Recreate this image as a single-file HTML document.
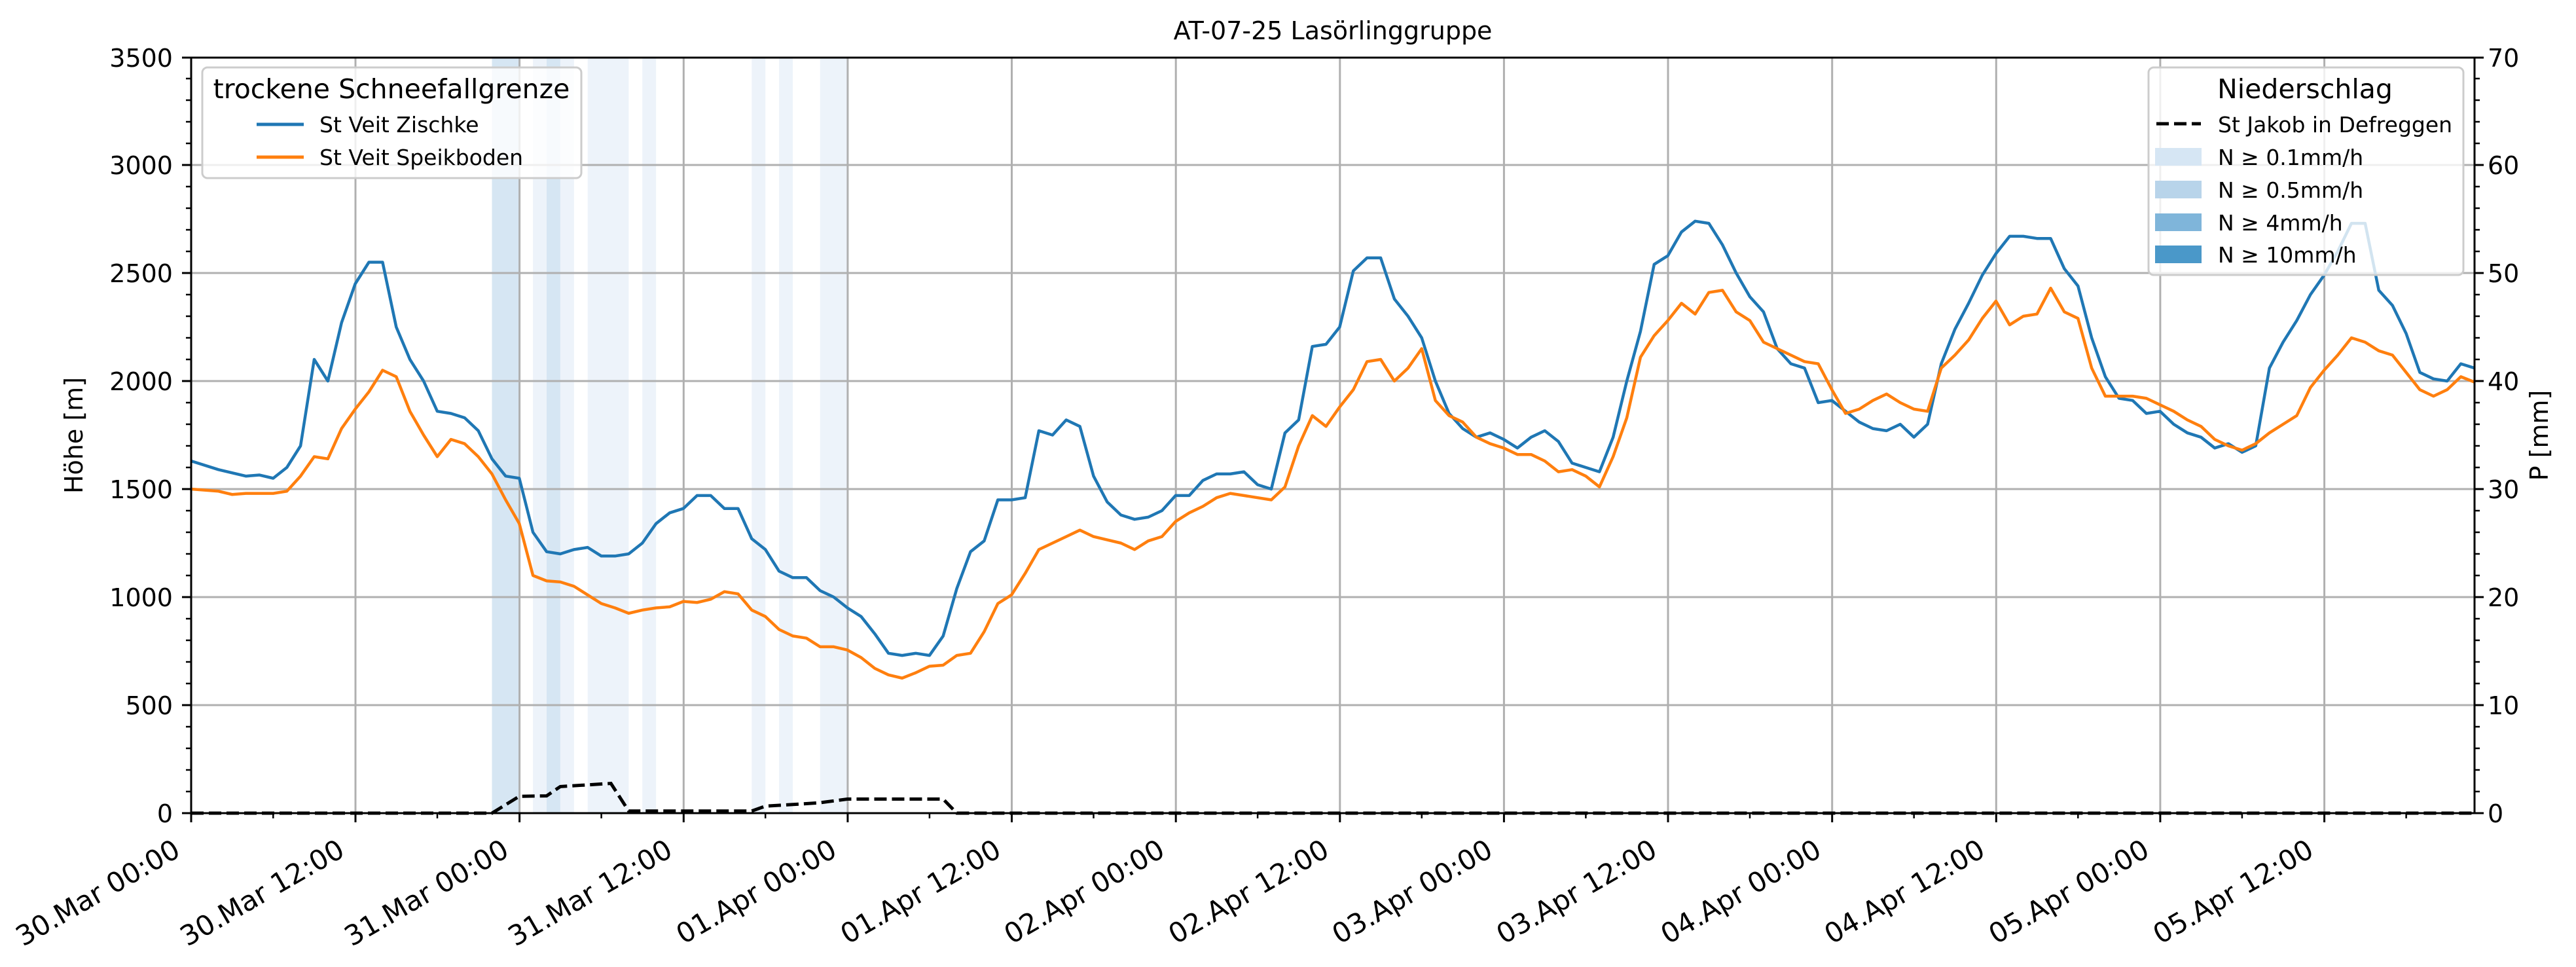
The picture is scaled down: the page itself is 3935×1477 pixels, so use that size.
<!DOCTYPE html>
<html><head><meta charset="utf-8"><style>html,body{margin:0;padding:0;background:#fff}svg{display:block}text{font-family:"DejaVu Sans","Liberation Sans",sans-serif;fill:#000}</style></head>
<body>
<svg width="3935" height="1477" viewBox="0 0 3935 1477" xmlns="http://www.w3.org/2000/svg">
<rect width="3935" height="1477" fill="#fff"/>
<g transform="translate(292,0) scale(20.886,1)">
<rect x="22" y="88" width="2" height="1154" fill="#d6e6f3"/>
<rect x="25" y="88" width="1" height="1154" fill="#edf3fa"/>
<rect x="26" y="88" width="1" height="1154" fill="#d6e6f3"/>
<rect x="27" y="88" width="1" height="1154" fill="#edf3fa"/>
<rect x="29" y="88" width="3" height="1154" fill="#edf3fa"/>
<rect x="33" y="88" width="1" height="1154" fill="#edf3fa"/>
<rect x="41" y="88" width="1" height="1154" fill="#edf3fa"/>
<rect x="43" y="88" width="1" height="1154" fill="#edf3fa"/>
<rect x="46" y="88" width="2" height="1154" fill="#edf3fa"/>
</g>
<g stroke="#b0b0b0" stroke-width="3">
<line x1="543" y1="88" x2="543" y2="1242"/><line x1="793.6" y1="88" x2="793.6" y2="1242"/><line x1="1044.3" y1="88" x2="1044.3" y2="1242"/><line x1="1294.9" y1="88" x2="1294.9" y2="1242"/><line x1="1545.5" y1="88" x2="1545.5" y2="1242"/><line x1="1796.2" y1="88" x2="1796.2" y2="1242"/><line x1="2046.8" y1="88" x2="2046.8" y2="1242"/><line x1="2297.4" y1="88" x2="2297.4" y2="1242"/><line x1="2548" y1="88" x2="2548" y2="1242"/><line x1="2798.7" y1="88" x2="2798.7" y2="1242"/><line x1="3049.3" y1="88" x2="3049.3" y2="1242"/><line x1="3299.9" y1="88" x2="3299.9" y2="1242"/><line x1="3550.6" y1="88" x2="3550.6" y2="1242"/>
<line x1="292" y1="1077" x2="3780" y2="1077"/><line x1="292" y1="912" x2="3780" y2="912"/><line x1="292" y1="747" x2="3780" y2="747"/><line x1="292" y1="582" x2="3780" y2="582"/><line x1="292" y1="417" x2="3780" y2="417"/><line x1="292" y1="252" x2="3780" y2="252"/>
</g>
<g transform="translate(292,1242) scale(20.886,-0.33)" fill="none" stroke-linejoin="round">
<polyline vector-effect="non-scaling-stroke" stroke="#1f77b4" stroke-width="4.5" points="0,1630 2,1590 4,1560 5,1565 6,1550 7,1600 8,1700 9,2100 10,2000 11,2270 12,2450 13,2550 14,2550 15,2250 16,2100 17,2000 18,1860 19,1850 20,1830 21,1770 22,1640 23,1560 24,1550 25,1300 26,1210 27,1200 28,1220 29,1230 30,1190 31,1190 32,1200 33,1250 34,1340 35,1390 36,1410 37,1470 38,1470 39,1410 40,1410 41,1270 42,1220 43,1120 44,1090 45,1090 46,1030 47,1000 48,950 49,910 50,830 51,740 52,730 53,740 54,730 55,820 56,1040 57,1210 58,1260 59,1450 60,1450 61,1460 62,1770 63,1750 64,1820 65,1790 66,1560 67,1440 68,1380 69,1360 70,1370 71,1400 72,1470 73,1470 74,1540 75,1570 76,1570 77,1580 78,1520 79,1500 80,1760 81,1820 82,2160 83,2170 84,2250 85,2510 86,2570 87,2570 88,2380 89,2300 90,2200 91,2000 92,1850 93,1780 94,1740 95,1760 96,1730 97,1690 98,1740 99,1770 100,1720 101,1620 102,1600 103,1580 104,1740 105,2000 106,2230 107,2540 108,2580 109,2690 110,2740 111,2730 112,2630 113,2500 114,2390 115,2320 116,2150 117,2080 118,2060 119,1900 120,1910 121,1860 122,1810 123,1780 124,1770 125,1800 126,1740 127,1800 128,2080 129,2240 130,2360 131,2490 132,2590 133,2670 134,2670 135,2660 136,2660 137,2520 138,2440 139,2200 140,2020 141,1920 142,1910 143,1850 144,1860 145,1800 146,1760 147,1740 148,1690 149,1710 150,1670 151,1700 152,2060 153,2180 154,2280 155,2400 156,2490 157,2600 158,2730 159,2730 160,2420 161,2350 162,2220 163,2040 164,2010 165,2000 166,2080 167,2060"/>
<polyline vector-effect="non-scaling-stroke" stroke="#ff7f0e" stroke-width="4.5" points="0,1500 2,1490 3,1475 4,1480 5,1480 6,1480 7,1490 8,1560 9,1650 10,1640 11,1780 12,1870 13,1950 14,2050 15,2020 16,1860 17,1750 18,1650 19,1730 20,1710 21,1650 22,1570 23,1450 24,1340 25,1100 26,1075 27,1070 28,1050 29,1010 30,970 31,950 32,925 33,940 34,950 35,955 36,980 37,975 38,990 39,1025 40,1015 41,940 42,910 43,850 44,820 45,810 46,770 47,770 48,755 49,720 50,670 51,640 52,625 53,650 54,680 55,685 56,730 57,740 58,840 59,970 60,1010 61,1110 62,1220 63,1250 64,1280 65,1310 66,1280 67,1265 68,1250 69,1220 70,1260 71,1280 72,1350 73,1390 74,1420 75,1460 76,1480 77,1470 78,1460 79,1450 80,1510 81,1700 82,1840 83,1790 84,1880 85,1960 86,2090 87,2100 88,2000 89,2060 90,2150 91,1910 92,1840 93,1810 94,1740 95,1710 96,1690 97,1660 98,1660 99,1630 100,1580 101,1590 102,1560 103,1510 104,1650 105,1830 106,2110 107,2210 108,2280 109,2360 110,2310 111,2410 112,2420 113,2320 114,2280 115,2180 116,2150 117,2120 118,2090 119,2080 120,1960 121,1850 122,1870 123,1910 124,1940 125,1900 126,1870 127,1860 128,2060 129,2120 130,2190 131,2290 132,2370 133,2260 134,2300 135,2310 136,2430 137,2320 138,2290 139,2060 140,1930 141,1930 142,1930 143,1920 144,1890 145,1860 146,1820 147,1790 148,1730 149,1700 150,1680 151,1710 152,1760 153,1800 154,1840 155,1970 156,2050 157,2120 158,2200 159,2180 160,2140 161,2120 162,2040 163,1960 164,1930 165,1960 166,2020 167,1995"/>
</g>
<g transform="translate(292,1242) scale(20.886,-16.5)" fill="none">
<polyline vector-effect="non-scaling-stroke" stroke="#000" stroke-width="5" stroke-dasharray="19,8" points="0,0 22,0 24,1.56 26,1.6 27,2.46 30.7,2.75 32,0.2 41,0.2 42,0.65 45.9,0.95 48,1.3 55,1.3 56,0 167,0"/>
</g>
<rect x="292" y="88" width="3488" height="1154" fill="none" stroke="#000" stroke-width="3"/>
<g stroke="#000" stroke-width="3">
<line x1="292" y1="1242" x2="292" y2="1256"/><line x1="543" y1="1242" x2="543" y2="1256"/><line x1="793.6" y1="1242" x2="793.6" y2="1256"/><line x1="1044.3" y1="1242" x2="1044.3" y2="1256"/><line x1="1294.9" y1="1242" x2="1294.9" y2="1256"/><line x1="1545.5" y1="1242" x2="1545.5" y2="1256"/><line x1="1796.2" y1="1242" x2="1796.2" y2="1256"/><line x1="2046.8" y1="1242" x2="2046.8" y2="1256"/><line x1="2297.4" y1="1242" x2="2297.4" y2="1256"/><line x1="2548" y1="1242" x2="2548" y2="1256"/><line x1="2798.7" y1="1242" x2="2798.7" y2="1256"/><line x1="3049.3" y1="1242" x2="3049.3" y2="1256"/><line x1="3299.9" y1="1242" x2="3299.9" y2="1256"/><line x1="3550.6" y1="1242" x2="3550.6" y2="1256"/>
</g>
<g stroke="#000" stroke-width="2.5">
<line x1="417.3" y1="1242" x2="417.3" y2="1250"/><line x1="668" y1="1242" x2="668" y2="1250"/><line x1="918.6" y1="1242" x2="918.6" y2="1250"/><line x1="1169.2" y1="1242" x2="1169.2" y2="1250"/><line x1="1419.9" y1="1242" x2="1419.9" y2="1250"/><line x1="1670.5" y1="1242" x2="1670.5" y2="1250"/><line x1="1921.1" y1="1242" x2="1921.1" y2="1250"/><line x1="2171.8" y1="1242" x2="2171.8" y2="1250"/><line x1="2422.4" y1="1242" x2="2422.4" y2="1250"/><line x1="2673" y1="1242" x2="2673" y2="1250"/><line x1="2923.7" y1="1242" x2="2923.7" y2="1250"/><line x1="3174.3" y1="1242" x2="3174.3" y2="1250"/><line x1="3424.9" y1="1242" x2="3424.9" y2="1250"/><line x1="3675.6" y1="1242" x2="3675.6" y2="1250"/>
</g>
<g stroke="#000" stroke-width="3">
<line x1="278" y1="1242" x2="292" y2="1242"/><line x1="278" y1="1077" x2="292" y2="1077"/><line x1="278" y1="912" x2="292" y2="912"/><line x1="278" y1="747" x2="292" y2="747"/><line x1="278" y1="582" x2="292" y2="582"/><line x1="278" y1="417" x2="292" y2="417"/><line x1="278" y1="252" x2="292" y2="252"/><line x1="278" y1="88" x2="292" y2="88"/>
<line x1="3780" y1="1242" x2="3794" y2="1242"/><line x1="3780" y1="1077" x2="3794" y2="1077"/><line x1="3780" y1="912" x2="3794" y2="912"/><line x1="3780" y1="747" x2="3794" y2="747"/><line x1="3780" y1="582" x2="3794" y2="582"/><line x1="3780" y1="417" x2="3794" y2="417"/><line x1="3780" y1="252" x2="3794" y2="252"/><line x1="3780" y1="88" x2="3794" y2="88"/>
</g>
<g stroke="#000" stroke-width="2.5">
<line x1="284" y1="1209" x2="292" y2="1209"/><line x1="284" y1="1176" x2="292" y2="1176"/><line x1="284" y1="1143" x2="292" y2="1143"/><line x1="284" y1="1110" x2="292" y2="1110"/>
<line x1="284" y1="1044" x2="292" y2="1044"/><line x1="284" y1="1011" x2="292" y2="1011"/><line x1="284" y1="978" x2="292" y2="978"/><line x1="284" y1="945" x2="292" y2="945"/>
<line x1="284" y1="879" x2="292" y2="879"/><line x1="284" y1="846" x2="292" y2="846"/><line x1="284" y1="813" x2="292" y2="813"/><line x1="284" y1="780" x2="292" y2="780"/>
<line x1="284" y1="714" x2="292" y2="714"/><line x1="284" y1="681" x2="292" y2="681"/><line x1="284" y1="648" x2="292" y2="648"/><line x1="284" y1="615" x2="292" y2="615"/>
<line x1="284" y1="549" x2="292" y2="549"/><line x1="284" y1="516" x2="292" y2="516"/><line x1="284" y1="483" x2="292" y2="483"/><line x1="284" y1="450" x2="292" y2="450"/>
<line x1="284" y1="384" x2="292" y2="384"/><line x1="284" y1="351" x2="292" y2="351"/><line x1="284" y1="318" x2="292" y2="318"/><line x1="284" y1="285" x2="292" y2="285"/>
<line x1="284" y1="219" x2="292" y2="219"/><line x1="284" y1="186" x2="292" y2="186"/><line x1="284" y1="153" x2="292" y2="153"/><line x1="284" y1="120" x2="292" y2="120"/>
<line x1="3780" y1="1209" x2="3788" y2="1209"/><line x1="3780" y1="1176" x2="3788" y2="1176"/><line x1="3780" y1="1143" x2="3788" y2="1143"/><line x1="3780" y1="1110" x2="3788" y2="1110"/>
<line x1="3780" y1="1044" x2="3788" y2="1044"/><line x1="3780" y1="1011" x2="3788" y2="1011"/><line x1="3780" y1="978" x2="3788" y2="978"/><line x1="3780" y1="945" x2="3788" y2="945"/>
<line x1="3780" y1="879" x2="3788" y2="879"/><line x1="3780" y1="846" x2="3788" y2="846"/><line x1="3780" y1="813" x2="3788" y2="813"/><line x1="3780" y1="780" x2="3788" y2="780"/>
<line x1="3780" y1="714" x2="3788" y2="714"/><line x1="3780" y1="681" x2="3788" y2="681"/><line x1="3780" y1="648" x2="3788" y2="648"/><line x1="3780" y1="615" x2="3788" y2="615"/>
<line x1="3780" y1="549" x2="3788" y2="549"/><line x1="3780" y1="516" x2="3788" y2="516"/><line x1="3780" y1="483" x2="3788" y2="483"/><line x1="3780" y1="450" x2="3788" y2="450"/>
<line x1="3780" y1="384" x2="3788" y2="384"/><line x1="3780" y1="351" x2="3788" y2="351"/><line x1="3780" y1="318" x2="3788" y2="318"/><line x1="3780" y1="285" x2="3788" y2="285"/>
<line x1="3780" y1="219" x2="3788" y2="219"/><line x1="3780" y1="186" x2="3788" y2="186"/><line x1="3780" y1="153" x2="3788" y2="153"/><line x1="3780" y1="120" x2="3788" y2="120"/>
</g>
<g font-size="38" text-anchor="end">
<text x="264" y="1256">0</text><text x="264" y="1091">500</text><text x="264" y="926">1000</text><text x="264" y="761">1500</text><text x="264" y="596">2000</text><text x="264" y="431">2500</text><text x="264" y="266">3000</text><text x="264" y="102">3500</text>
</g>
<g font-size="38">
<text x="3800" y="1256">0</text><text x="3800" y="1091">10</text><text x="3800" y="926">20</text><text x="3800" y="761">30</text><text x="3800" y="596">40</text><text x="3800" y="431">50</text><text x="3800" y="266">60</text><text x="3800" y="102">70</text>
</g>
<g font-size="42" text-anchor="end">
<text transform="translate(278,1306) rotate(-30)">30.Mar 00:00</text>
<text transform="translate(529,1306) rotate(-30)">30.Mar 12:00</text>
<text transform="translate(780,1306) rotate(-30)">31.Mar 00:00</text>
<text transform="translate(1030,1306) rotate(-30)">31.Mar 12:00</text>
<text transform="translate(1281,1306) rotate(-30)">01.Apr 00:00</text>
<text transform="translate(1532,1306) rotate(-30)">01.Apr 12:00</text>
<text transform="translate(1782,1306) rotate(-30)">02.Apr 00:00</text>
<text transform="translate(2033,1306) rotate(-30)">02.Apr 12:00</text>
<text transform="translate(2283,1306) rotate(-30)">03.Apr 00:00</text>
<text transform="translate(2534,1306) rotate(-30)">03.Apr 12:00</text>
<text transform="translate(2785,1306) rotate(-30)">04.Apr 00:00</text>
<text transform="translate(3035,1306) rotate(-30)">04.Apr 12:00</text>
<text transform="translate(3286,1306) rotate(-30)">05.Apr 00:00</text>
<text transform="translate(3537,1306) rotate(-30)">05.Apr 12:00</text>
</g>
<text x="2036" y="60" font-size="38" text-anchor="middle">AT-07-25 Lasörlinggruppe</text>
<text transform="translate(126,665) rotate(-90)" font-size="38" text-anchor="middle">Höhe [m]</text>
<text transform="translate(3892,665) rotate(-90)" font-size="38" text-anchor="middle">P [mm]</text>
<rect x="309" y="103" width="579" height="169" rx="8" fill="#fff" fill-opacity="0.8" stroke="#cccccc" stroke-width="3"/>
<text x="598" y="150" font-size="41" text-anchor="middle">trockene Schneefallgrenze</text>
<line x1="392" y1="190" x2="464" y2="190" stroke="#1f77b4" stroke-width="5"/>
<text x="488" y="202" font-size="33">St Veit Zischke</text>
<line x1="392" y1="240" x2="464" y2="240" stroke="#ff7f0e" stroke-width="5"/>
<text x="488" y="252" font-size="33">St Veit Speikboden</text>
<rect x="3282" y="103" width="481" height="317" rx="8" fill="#fff" fill-opacity="0.8" stroke="#cccccc" stroke-width="3"/>
<text x="3521" y="150" font-size="41" text-anchor="middle">Niederschlag</text>
<line x1="3294" y1="189" x2="3362" y2="189" stroke="#000" stroke-width="5" stroke-dasharray="19,8"/>
<text x="3388" y="202" font-size="33">St Jakob in Defreggen</text>
<rect x="3292" y="226" width="71" height="27" fill="#d6e6f4"/>
<text x="3388" y="252" font-size="33">N ≥ 0.1mm/h</text>
<rect x="3292" y="276" width="71" height="27" fill="#b8d4ea"/>
<text x="3388" y="302" font-size="33">N ≥ 0.5mm/h</text>
<rect x="3292" y="326" width="71" height="27" fill="#7fb5da"/>
<text x="3388" y="352" font-size="33">N ≥ 4mm/h</text>
<rect x="3292" y="375" width="71" height="27" fill="#4a98c9"/>
<text x="3388" y="401" font-size="33">N ≥ 10mm/h</text>
</svg>
</body></html>
